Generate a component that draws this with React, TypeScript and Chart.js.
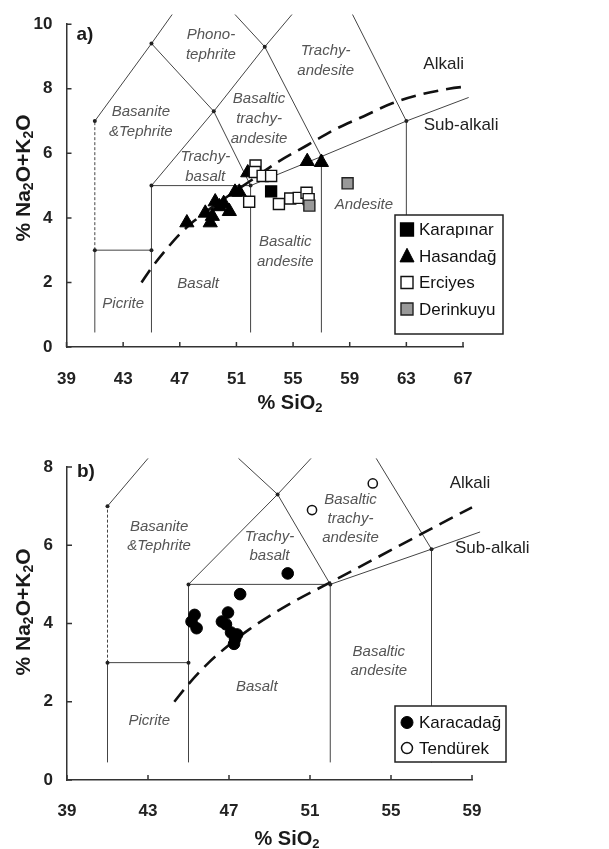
import React, { useEffect, useRef } from "react";
import { Chart, registerables } from "chart.js";

Chart.register(...registerables);

const FONT = "'Liberation Sans', Arial, Helvetica, sans-serif";

// ================= Panel a) =================
const aXTicks = [39, 43, 47, 51, 55, 59, 63, 67];
const aYTicks = [0, 2, 4, 6, 8, 10];

const karapinarSiO2 = [53.45];
const karapinarAlk = [4.82];
const hasandagSiO2 = [47.5, 48.8, 49.15, 49.3, 49.5, 49.8, 50.1, 50.5, 50.9, 51.2, 51.8, 56.0, 57.0];
const hasandagAlk = [3.85, 4.15, 3.85, 4.05, 4.5, 4.35, 4.45, 4.2, 4.8, 4.8, 5.4, 5.75, 5.72];
const erciyesSiO2 = [52.35, 52.3, 52.85, 53.45, 51.9, 54.0, 54.8, 55.4, 55.95, 56.1];
const erciyesAlk = [5.62, 5.42, 5.3, 5.3, 4.5, 4.43, 4.6, 4.62, 4.78, 4.58];
const derinkuyuSiO2 = [58.85, 56.15];
const derinkuyuAlk = [5.07, 4.38];

const aBoundaries: number[][][] = [
  [[41, 0.45], [41, 3]],
  [[41, 3], [45, 3]],
  [[45, 0.45], [45, 5]],
  [[45, 5], [52, 5]],
  [[52, 0.45], [52, 5]],
  [[57, 0.45], [57, 5.9]],
  [[63, 0.45], [63, 7]],
  [[52, 5], [57, 5.9], [63, 7], [67.4, 7.73]],
  [[41, 7], [45, 9.4], [46.46, 10.3]],
  [[45, 5], [49.4, 7.3], [53, 9.3], [54.92, 10.3]],
  [[52, 5], [49.4, 7.3], [45, 9.4]],
  [[57, 5.9], [53, 9.3], [50.9, 10.3]],
  [[63, 7], [59.2, 10.3]],
];
const aDashed: number[][][] = [[[41, 3], [41, 7]]];
const aAlkaliSiO2 = [44.3, 45, 46, 47, 48, 50, 52, 54, 56, 58, 60, 62, 64, 66, 67.4];
const aAlkaliAlk = [2.0, 2.45, 3.0, 3.5, 3.9, 4.55, 5.15, 5.75, 6.25, 6.75, 7.15, 7.55, 7.82, 8.0, 8.08];
const aVertices: number[][] = [[41, 7], [45, 9.4], [49.4, 7.3], [53, 9.3], [63, 7], [45, 5], [52, 5], [41, 3], [45, 3], [57, 5.9]];
const aFieldNames = ["Phono-\ntephrite", "Trachy-\nandesite", "Basanite\n&Tephrite", "Basaltic\ntrachy-\nandesite", "Trachy-\nbasalt", "Andesite", "Basaltic\nandesite", "Basalt", "Picrite"];
const aFieldX = [49.2, 57.3, 44.25, 52.6, 48.8, 60.0, 54.45, 48.3, 43.0];
const aFieldY = [9.37, 8.88, 6.97, 7.07, 5.58, 4.4, 2.95, 1.97, 1.34];

// ================= Panel b) =================
const bXTicks = [39, 43, 47, 51, 55, 59];
const bYTicks = [0, 2, 4, 6, 8];

const karacadagSiO2 = [45.3, 45.15, 45.4, 46.65, 46.95, 46.85, 47.1, 47.4, 47.25, 47.3, 47.55, 49.9];
const karacadagAlk = [4.22, 4.05, 3.88, 4.05, 4.28, 3.98, 3.77, 3.72, 3.48, 3.6, 4.75, 5.28];
const tendurekSiO2 = [51.1, 54.1];
const tendurekAlk = [6.9, 7.58];

const bBoundaries: number[][][] = [
  [[41, 0.45], [41, 3]],
  [[41, 3], [45, 3]],
  [[45, 0.45], [45, 5]],
  [[45, 5], [52, 5]],
  [[52, 0.45], [52, 5]],
  [[57, 0.45], [57, 5.9]],
  [[52, 5], [57, 5.9], [59.4, 6.34]],
  [[41, 7], [43.0, 8.22]],
  [[45, 5], [49.4, 7.3], [51.05, 8.22]],
  [[52, 5], [49.4, 7.3], [47.47, 8.22]],
  [[57, 5.9], [54.27, 8.22]],
];
const bDashed: number[][][] = [[[41, 3], [41, 7]]];
const bAlkaliSiO2 = [44.3, 45, 46, 47, 48, 50, 52, 54, 56, 58, 59];
const bAlkaliAlk = [2.0, 2.45, 3.0, 3.45, 3.85, 4.5, 5.05, 5.6, 6.15, 6.7, 6.97];
const bVertices: number[][] = [[41, 7], [49.4, 7.3], [45, 5], [52, 5], [57, 5.9], [41, 3], [45, 3]];
const bFieldNames = ["Basanite\n&Tephrite", "Trachy-\nbasalt", "Basaltic\ntrachy-\nandesite", "Basaltic\nandesite", "Basalt", "Picrite"];
const bFieldX = [43.55, 49.0, 53.0, 54.4, 48.37, 43.06];
const bFieldY = [6.22, 5.98, 6.67, 3.03, 2.39, 1.51];

type Series = {
  label: string; xs: number[]; ys: number[];
  style: "rect" | "triangle" | "circle"; fill: string; stroke: string;
  radius: number; bw: number; legendSize: number;
};

type Cfg = {
  canvasH: number; padTop: number; padRight: number; yAxisW: number; xAxisH: number;
  xTickPad: number; yTickPad: number;
  xTicks: number[]; yTicks: number[];
  series: Series[];
  boundaries: number[][][]; dashed: number[][][];
  alkX: number[]; alkY: number[]; vertices: number[][];
  fieldNames: string[]; fieldX: number[]; fieldY: number[]; fieldLineH: number;
  alkaliLbl: number[]; subLbl: number[];
  letter: string; letterDx: number; letterDy: number;
  legend: { dx: number; dy: number; w: number; h: number; first: number; step: number };
  xTitleX: number; xTitleBase: number; yTitleX: number; yTitleY: number;
};

function drawMarker(ctx: CanvasRenderingContext2D, style: string, x: number, y: number, s: number, fill: string, stroke: string, lw: number) {
  ctx.beginPath();
  if (style === "rect") ctx.rect(x - s / 2, y - s / 2, s, s);
  else if (style === "triangle") {
    ctx.moveTo(x, y - s * 0.55);
    ctx.lineTo(x + s / 2, y + s * 0.42);
    ctx.lineTo(x - s / 2, y + s * 0.42);
    ctx.closePath();
  } else ctx.arc(x, y, s / 2, 0, Math.PI * 2);
  ctx.fillStyle = fill;
  ctx.fill();
  ctx.lineWidth = lw;
  ctx.strokeStyle = stroke;
  ctx.stroke();
}

function drawRich(ctx: CanvasRenderingContext2D, segs: [string, boolean][], cx: number, base: number, size: number) {
  const main = `bold ${size}px ${FONT}`;
  const sub = `bold ${Math.round(size * 0.66)}px ${FONT}`;
  let w = 0;
  for (const [t, s] of segs) { ctx.font = s ? sub : main; w += ctx.measureText(t).width; }
  let x = cx - w / 2;
  ctx.textAlign = "left";
  ctx.textBaseline = "alphabetic";
  for (const [t, s] of segs) {
    ctx.font = s ? sub : main;
    ctx.fillText(t, x, s ? base + size * 0.17 : base);
    x += ctx.measureText(t).width;
  }
}

function makePlugin(cfg: Cfg) {
  return {
    id: "tasDecor",
    beforeDatasetsDraw(chart: any) {
      const { ctx, scales: { x, y } } = chart;
      ctx.save();
      ctx.fillStyle = "#555";
      ctx.font = `italic 15px ${FONT}`;
      ctx.textAlign = "center";
      ctx.textBaseline = "middle";
      cfg.fieldNames.forEach((name, i) => {
        const lines = name.split("\n");
        const px = x.getPixelForValue(cfg.fieldX[i]);
        const py = y.getPixelForValue(cfg.fieldY[i]);
        lines.forEach((l, j) => ctx.fillText(l, px, py + (j - (lines.length - 1) / 2) * cfg.fieldLineH));
      });
      ctx.fillStyle = "#222";
      ctx.font = `17px ${FONT}`;
      ctx.textAlign = "left";
      ctx.fillText("Alkali", x.getPixelForValue(cfg.alkaliLbl[0]), y.getPixelForValue(cfg.alkaliLbl[1]));
      ctx.fillText("Sub-alkali", x.getPixelForValue(cfg.subLbl[0]), y.getPixelForValue(cfg.subLbl[1]));
      ctx.restore();
    },
    afterDatasetsDraw(chart: any) {
      const { ctx, chartArea } = chart;
      const L = cfg.legend;
      const left = chartArea.right + L.dx;
      const top = chartArea.bottom + L.dy;
      ctx.save();
      ctx.fillStyle = "#fff";
      ctx.fillRect(left, top, L.w, L.h);
      ctx.lineWidth = 1.5;
      ctx.strokeStyle = "#222";
      ctx.strokeRect(left, top, L.w, L.h);
      cfg.series.forEach((s, i) => {
        const cy = top + L.first + i * L.step;
        drawMarker(ctx, s.style, left + 12, cy, s.legendSize, s.fill, s.stroke, s.bw);
        ctx.fillStyle = "#111";
        ctx.font = `17px ${FONT}`;
        ctx.textAlign = "left";
        ctx.textBaseline = "middle";
        ctx.fillText(s.label, left + 24, cy + 1);
      });
      ctx.restore();
    },
    afterDraw(chart: any) {
      const { ctx, chartArea, scales: { x, y } } = chart;
      ctx.save();
      ctx.strokeStyle = "#333";
      ctx.lineWidth = 1.5;
      ctx.beginPath();
      x.ticks.forEach((t: any) => {
        const px = x.getPixelForValue(t.value);
        ctx.moveTo(px, chartArea.bottom);
        ctx.lineTo(px, chartArea.bottom - 5);
      });
      y.ticks.forEach((t: any) => {
        const py = y.getPixelForValue(t.value);
        ctx.moveTo(chartArea.left, py);
        ctx.lineTo(chartArea.left + 5, py);
      });
      ctx.stroke();
      ctx.fillStyle = "#1a1a1a";
      ctx.font = `bold 19px ${FONT}`;
      ctx.textAlign = "left";
      ctx.textBaseline = "middle";
      ctx.fillText(cfg.letter, chartArea.left + cfg.letterDx, chartArea.top + cfg.letterDy);
      drawRich(ctx, [["% SiO", false], ["2", true]], cfg.xTitleX, cfg.xTitleBase, 20);
      ctx.translate(cfg.yTitleX, cfg.yTitleY);
      ctx.rotate(-Math.PI / 2);
      drawRich(ctx, [["% Na", false], ["2", true], ["O+K", false], ["2", true], ["O", false]], 0, 7.5, 21);
      ctx.restore();
    },
  };
}

const toPts = (xs: number[], ys: number[]) => xs.map((v, i) => ({ x: v, y: ys[i] }));
const pairPts = (p: number[][]) => p.map(([a, b]) => ({ x: a, y: b }));

function buildChart(canvas: HTMLCanvasElement, cfg: Cfg) {
  const datasets: any[] = [];
  [...cfg.series].reverse().forEach((s) => {
    datasets.push({
      label: s.label,
      data: toPts(s.xs, s.ys),
      showLine: false,
      pointStyle: s.style,
      pointRadius: s.radius,
      pointBackgroundColor: s.fill,
      pointBorderColor: s.stroke,
      pointBorderWidth: s.bw,
      clip: false,
    });
  });
  datasets.push({
    label: "vertices",
    data: pairPts(cfg.vertices),
    showLine: false,
    pointRadius: 2,
    pointBackgroundColor: "#222",
    pointBorderWidth: 0,
    clip: false,
  });
  datasets.push({
    label: "alkali",
    data: toPts(cfg.alkX, cfg.alkY),
    showLine: true,
    borderColor: "#111",
    borderWidth: 2.6,
    borderDash: [15, 8],
    pointRadius: 0,
    cubicInterpolationMode: "monotone",
    clip: false,
  });
  cfg.boundaries.forEach((b) =>
    datasets.push({ label: "b", data: pairPts(b), showLine: true, borderColor: "#444", borderWidth: 1, pointRadius: 0, clip: false })
  );
  cfg.dashed.forEach((b) =>
    datasets.push({ label: "d", data: pairPts(b), showLine: true, borderColor: "#444", borderWidth: 1, borderDash: [3, 2], pointRadius: 0, clip: false })
  );

  const tickFont = { family: FONT, size: 17, weight: "bold" as const };
  return new Chart(canvas, {
    type: "scatter",
    data: { datasets },
    options: {
      animation: false,
      responsive: false,
      devicePixelRatio: 1,
      events: [],
      layout: { padding: { top: cfg.padTop, right: cfg.padRight, left: 0, bottom: 0 } },
      plugins: { legend: { display: false }, tooltip: { enabled: false } },
      scales: {
        x: {
          type: "linear",
          min: cfg.xTicks[0],
          max: cfg.xTicks[cfg.xTicks.length - 1],
          afterBuildTicks: (s: any) => { s.ticks = cfg.xTicks.map((v) => ({ value: v })); },
          afterFit: (s: any) => { s.height = cfg.xAxisH; },
          ticks: { color: "#222", font: tickFont, padding: cfg.xTickPad, maxRotation: 0, autoSkip: false },
          grid: { display: true, drawOnChartArea: false, drawTicks: false },
          border: { display: true, color: "#333", width: 1.5 },
        },
        y: {
          type: "linear",
          min: cfg.yTicks[0],
          max: cfg.yTicks[cfg.yTicks.length - 1],
          afterBuildTicks: (s: any) => { s.ticks = cfg.yTicks.map((v) => ({ value: v })); },
          afterFit: (s: any) => { s.width = cfg.yAxisW; },
          ticks: { color: "#222", font: tickFont, padding: cfg.yTickPad, autoSkip: false },
          grid: { display: true, drawOnChartArea: false, drawTicks: false },
          border: { display: true, color: "#333", width: 1.5 },
        },
      },
    } as any,
    plugins: [makePlugin(cfg) as any],
  });
}

const cfgA: Cfg = {
  canvasH: 426, padTop: 21, padRight: 146, yAxisW: 66.5, xAxisH: 79,
  xTickPad: 22, yTickPad: 14,
  xTicks: aXTicks, yTicks: aYTicks,
  series: [
    { label: "Karapınar", xs: karapinarSiO2, ys: karapinarAlk, style: "rect", fill: "#000", stroke: "#000", radius: 7.8, bw: 1.3, legendSize: 13 },
    { label: "Hasandağ", xs: hasandagSiO2, ys: hasandagAlk, style: "triangle", fill: "#000", stroke: "#000", radius: 8.2, bw: 1, legendSize: 14 },
    { label: "Erciyes", xs: erciyesSiO2, ys: erciyesAlk, style: "rect", fill: "#fff", stroke: "#111", radius: 7.8, bw: 1.4, legendSize: 12 },
    { label: "Derinkuyu", xs: derinkuyuSiO2, ys: derinkuyuAlk, style: "rect", fill: "#999", stroke: "#222", radius: 7.8, bw: 1.4, legendSize: 12 },
  ],
  boundaries: aBoundaries, dashed: aDashed,
  alkX: aAlkaliSiO2, alkY: aAlkaliAlk, vertices: aVertices,
  fieldNames: aFieldNames, fieldX: aFieldX, fieldY: aFieldY, fieldLineH: 20,
  alkaliLbl: [64.2, 8.75], subLbl: [64.23, 6.86],
  letter: "a)", letterDx: 10, letterDy: 10.5,
  legend: { dx: -68, dy: -132, w: 108, h: 119, first: 14.5, step: 26.5 },
  xTitleX: 290, xTitleBase: 409, yTitleX: 22, yTitleY: 178,
};

const cfgB: Cfg = {
  canvasH: 423, padTop: 41, padRight: 137, yAxisW: 67, xAxisH: 69,
  xTickPad: 21, yTickPad: 14,
  xTicks: bXTicks, yTicks: bYTicks,
  series: [
    { label: "Karacadağ", xs: karacadagSiO2, ys: karacadagAlk, style: "circle", fill: "#000", stroke: "#000", radius: 5.8, bw: 1, legendSize: 12 },
    { label: "Tendürek", xs: tendurekSiO2, ys: tendurekAlk, style: "circle", fill: "#fff", stroke: "#111", radius: 4.6, bw: 1.5, legendSize: 11 },
  ],
  boundaries: bBoundaries, dashed: bDashed,
  alkX: bAlkaliSiO2, alkY: bAlkaliAlk, vertices: bVertices,
  fieldNames: bFieldNames, fieldX: bFieldX, fieldY: bFieldY, fieldLineH: 19,
  alkaliLbl: [57.9, 7.59], subLbl: [58.16, 5.93],
  letter: "b)", letterDx: 10, letterDy: 5,
  legend: { dx: -77, dy: -74, w: 111, h: 56, first: 16.5, step: 25.6 },
  xTitleX: 287, xTitleBase: 419, yTitleX: 22, yTitleY: 186,
};

function Panel({ cfg }: { cfg: Cfg }) {
  const ref = useRef<HTMLCanvasElement | null>(null);
  useEffect(() => {
    if (!ref.current) return;
    const chart = buildChart(ref.current, cfg);
    return () => chart.destroy();
  }, [cfg]);
  return <canvas ref={ref} width={609} height={cfg.canvasH} style={{ display: "block", width: 609, height: cfg.canvasH }} />;
}

export default function App() {
  useEffect(() => {
    document.body.style.margin = "0";
    document.body.style.background = "#fff";
  }, []);
  return (
    <div style={{ width: 609, height: 849, background: "#fff", overflow: "hidden" }}>
      <Panel cfg={cfgA} />
      <Panel cfg={cfgB} />
    </div>
  );
}
